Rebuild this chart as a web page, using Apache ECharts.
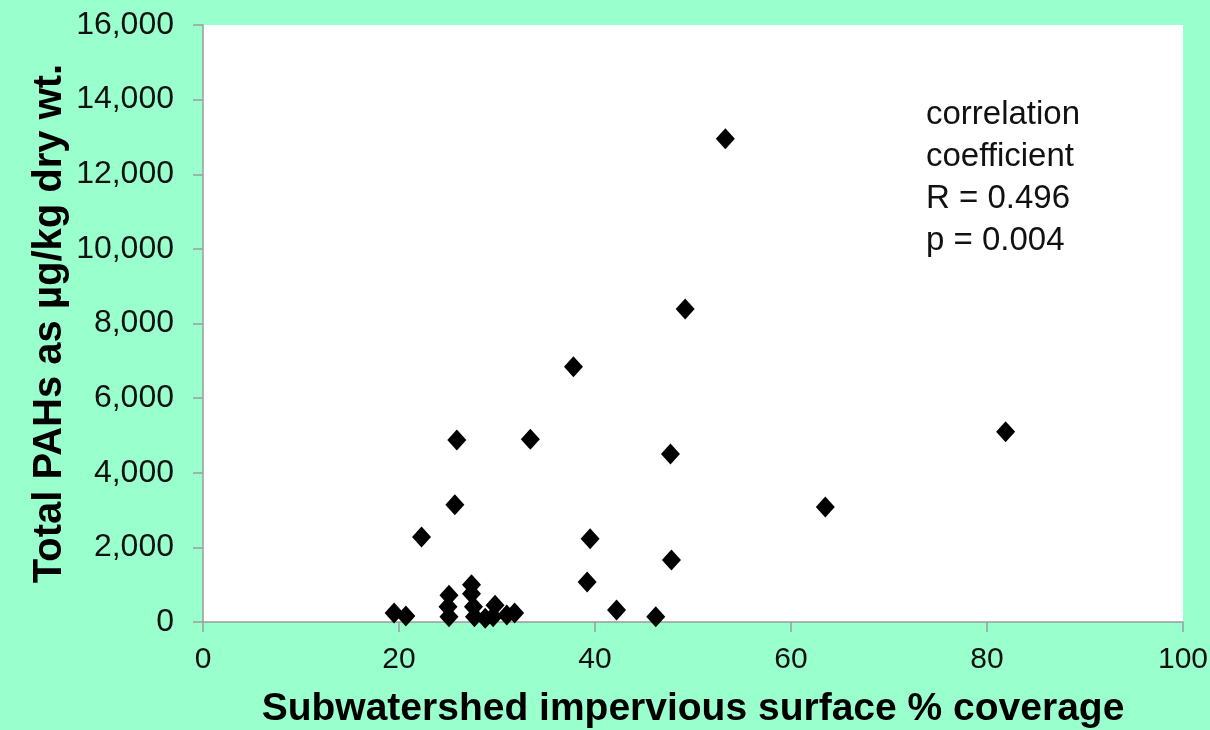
<!DOCTYPE html>
<html>
<head>
<meta charset="utf-8">
<script src="https://cdn.jsdelivr.net/npm/echarts@6/dist/echarts.min.js"></script>
<style>
  html, body { margin: 0; padding: 0; background: #99ffcc; }
  #chart { width: 1210px; height: 730px; }
</style>
</head>
<body>
<div id="chart"></div>
<script>
// Subwatershed impervious surface (% coverage) for each sampled site
const impervious = [
  53.3, 49.2, 37.8, 25.9, 33.4, 47.7, 81.9, 63.5, 25.7, 22.3,
  39.5, 47.8, 39.2, 42.2, 46.2, 19.5, 20.7, 25.1, 25.0, 25.1,
  27.4, 27.4, 27.6, 27.7, 28.8, 29.8, 29.6, 31.0, 31.8
];
// Total PAHs measured at the same sites (µg/kg dry wt.)
const totalPAHs = [
  12950, 8390, 6840, 4880, 4900, 4500, 5100, 3080, 3140, 2280,
  2230, 1660, 1070, 320, 140, 240, 160, 720, 410, 140,
  1000, 760, 410, 140, 100, 450, 140, 190, 240
];
const xTicks = [0, 20, 40, 60, 80, 100];
const yTicks = [0, 2000, 4000, 6000, 8000, 10000, 12000, 14000, 16000];
const statsLines = ['correlation', 'coefficient', 'R = 0.496', 'p = 0.004'];

const points = impervious.map((x, i) => [x, totalPAHs[i]]);

const chart = echarts.init(document.getElementById('chart'), null, { renderer: 'canvas' });
const axisGrey = '#9c9c9c';
const sans = 'Arial, "Liberation Sans", sans-serif';

chart.setOption({
  backgroundColor: '#99ffcc',
  animation: false,
  grid: {
    left: 203, right: 27, top: 25, bottom: 108,
    outerBoundsMode: 'none',
    containLabel: false,
    show: true, backgroundColor: '#ffffff', borderWidth: 0
  },
  xAxis: {
    type: 'value',
    min: xTicks[0], max: xTicks[xTicks.length - 1], interval: 20,
    name: 'Subwatershed impervious surface % coverage',
    nameLocation: 'middle', nameGap: 68,
    nameTextStyle: { fontFamily: sans, fontWeight: 'bold', fontSize: 39, color: '#000' },
    axisLine: { lineStyle: { color: axisGrey, width: 1.5 } },
    axisTick: { show: true, length: 10, inside: false, lineStyle: { color: axisGrey, width: 1.5 } },
    axisLabel: { fontFamily: sans, fontSize: 30, color: '#111', margin: 23 },
    splitLine: { show: false }
  },
  yAxis: {
    type: 'value',
    min: yTicks[0], max: yTicks[yTicks.length - 1], interval: 2000,
    name: 'Total PAHs as µg/kg dry wt.',
    nameLocation: 'middle', nameGap: 133,
    nameMoveOverlap: false,
    nameTextStyle: { fontFamily: sans, fontWeight: 'bold', fontSize: 40, color: '#000' },
    axisLine: { show: true, lineStyle: { color: axisGrey, width: 1.5 } },
    axisTick: { show: true, length: 10, inside: false, lineStyle: { color: axisGrey, width: 1.5 } },
    axisLabel: {
      fontFamily: sans, fontSize: 32, color: '#111', margin: 29,
      formatter: v => v.toLocaleString('en-US')
    },
    splitLine: { show: false }
  },
  graphic: [{
    type: 'text',
    left: 926, top: 94,
    style: {
      text: statsLines.join('\n'),
      font: '33px Arial, "Liberation Sans", sans-serif',
      lineHeight: 42,
      fill: '#111'
    }
  }],
  series: [{
    type: 'scatter',
    data: points,
    symbol: 'diamond',
    symbolSize: [19, 21],
    itemStyle: { color: '#000000', opacity: 1 }
  }]
});
</script>
</body>
</html>
